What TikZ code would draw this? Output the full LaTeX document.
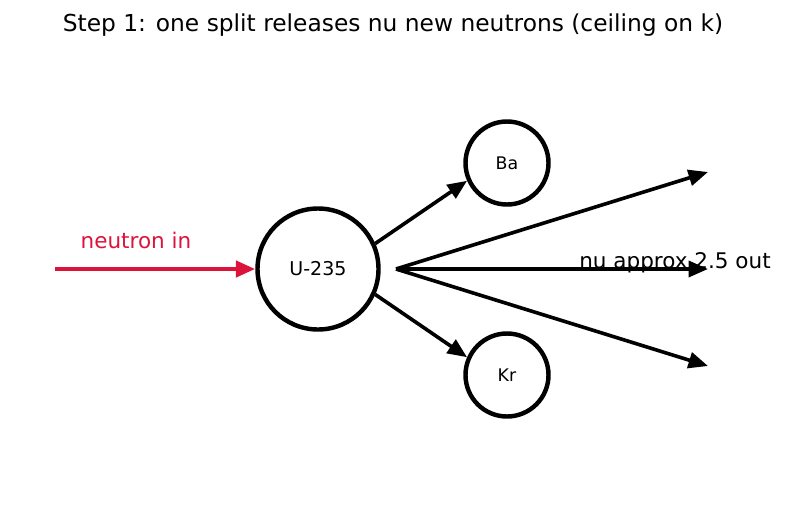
\documentclass[tikz,border=0pt]{standalone}
\usepackage{fontspec}
\setmainfont{DejaVu Sans}
\usetikzlibrary{arrows.meta}
\definecolor{crimson}{RGB}{220,20,60}

\begin{document}
\begin{tikzpicture}[
        x=0.72pt, y=-0.72pt,
        nucleus/.style={draw, circle, line width=3.2pt, inner sep=0pt},
        ray/.style={line width=2.6pt, -{Triangle[length=14pt, width=11.5pt]}}
    ]
    \useasboundingbox (0, 0) rectangle (787, 510);
    \node (title) at (393, 25) {\fontsize{16.8}{20}\selectfont Step 1: one split releases nu new neutrons (ceiling on k)};
    \node[nucleus, minimum size=121*0.72pt] (u) at (318, 269) {\fontsize{13.7}{16}\selectfont U-235};
    \node[nucleus, minimum size=83*0.72pt] (ba) at (507, 163) {\fontsize{12.5}{14}\selectfont Ba};
    \node[nucleus, minimum size=83*0.72pt] (kr) at (507, 375) {\fontsize{12.5}{14}\selectfont Kr};
    \coordinate (src) at (55, 269);
    \coordinate (split) at (396, 269);
    \coordinate (n1) at (708, 172);
    \coordinate (n2) at (708, 269);
    \coordinate (n3) at (708, 366);
    % incoming neutron
    \draw[ray, crimson, line width=3.2pt] (src) -- (u);
    \node[text=crimson] (inlabel) at (136, 240) {\fontsize{15.5}{18}\selectfont neutron in};
    % fragments
    \draw[ray] (u.24) -- (ba.204);
    \draw[ray] (u.-24) -- (kr.156);
    % new neutrons
    \foreach \n in {n1, n2, n3} {
        \draw[ray] (split) -- (\n);
    }
    \node (outlabel) at (675, 263) {\fontsize{15.5}{18}\selectfont nu approx 2.5 out};
\end{tikzpicture}
\end{document}
